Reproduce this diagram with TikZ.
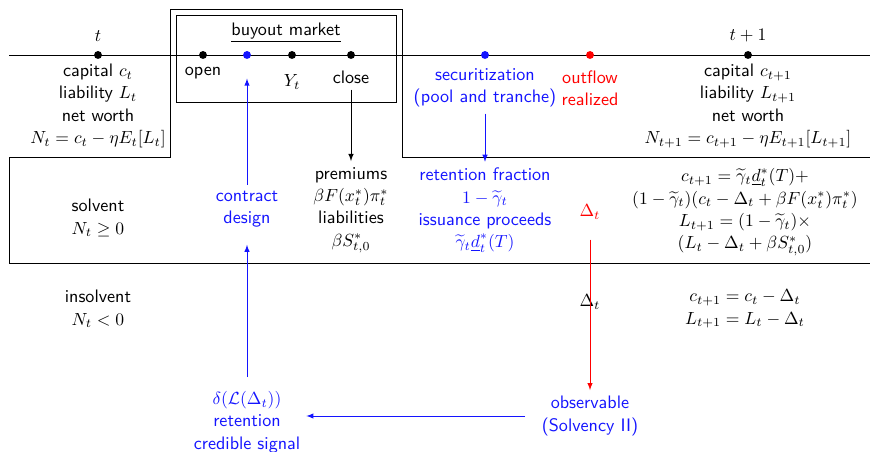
\documentclass[tikz,border=0pt]{standalone}
\usetikzlibrary{arrows,positioning}

\begin{document}
\begin{tikzpicture}[x=0.02cm, y=-0.02cm]
			\definecolor{signalColour}{RGB}{20, 20, 255}
			\definecolor{lossColour}{RGB}{255, 0, 0}
			\tikzstyle{date}=[circle, fill, inner sep=0pt, minimum size=4.5pt]
			\tikzstyle{txt}=[align=center, font={\sffamily\fontsize{10.3}{12.7}\selectfont}]

			\useasboundingbox (0,0) rectangle (870,452);

			% solvent region, insolvent border and the time line
			\draw (9,263) -- (9,157) -- (170,157) -- (170,9) -- (402,9) -- (402,157) -- (870,157);
			\draw (9,263) -- (870,263);
			\draw (176,15) rectangle (396,102);
			\draw (9,55) -- (870,55);

			\node [date] (t) at (98,55) {};
			\node [date] (o) at (203,55) {};
			\node [date, color=signalColour] (b) at (247,55) {};
			\node [date] (y) at (292,55) {};
			\node [date] (c) at (351,55) {};
			\node [date, color=signalColour] (s) at (485,55) {};
			\node [date, color=lossColour] (r) at (590,55) {};
			\node [date] (u) at (748,55) {};

			\node [txt] (T) at (98,36) {$t$};
			\node [txt] (U) at (748,36) {$t+1$};
			\node [txt] (A) at (98,106) {capital $c_t$\\ liability $L_t$\\ net worth\\ $N_t = c_t - \eta E_t[L_t]$};
			\node [txt] (M) at (286,33) {\underline{buyout market}};
			\node [txt] (O) at (203,73) {open};
			\node [txt] (Y) at (292,82) {$Y_t$};
			\node [txt] (C) at (351,77) {close};
			\node [txt, color=signalColour] (S) at (485,88) {securitization\\ (pool and tranche)};
			\node [txt, color=lossColour] (R) at (590,88) {outflow\\ realized};
			\node [txt] (V) at (748,106) {capital $c_{t+1}$\\ liability $L_{t+1}$\\ net worth\\ $N_{t+1} = c_{t+1} - \eta E_{t+1}[L_{t+1}]$};

			\node [txt] (sol) at (98,218) {solvent\\ $N_t \geq 0$};
			\node [txt, color=signalColour] (D) at (247,209) {contract\\ design};
			\node [txt] (P) at (351,210) {premiums\\ $\beta F(x_t^*)\pi_t^*$\\ liabilities\\ $\beta S^*_{t,0}$};
			\node [txt, color=signalColour] (F) at (485,210) {retention fraction\\ $1-\widetilde{\gamma}_t$\\ issuance proceeds\\ $\widetilde{\gamma}_t \underline{d}^*_t(T)$};
			\node [txt, color=lossColour] (L) at (590,212) {$\Delta_t$};
			\node [txt] (W) at (745,212) {$c_{t+1} = \widetilde{\gamma}_t\underline{d}^*_t(T)+$\\ $(1-\widetilde{\gamma}_t)(c_t - \Delta_t + \beta F(x_t^*)\pi_t^*)$\\ $L_{t+1} = (1-\widetilde{\gamma}_t)\times$\\ $(L_t - \Delta_t + \beta S^*_{t,0})$};

			\node [txt] (ins) at (98,309) {insolvent\\ $N_t < 0$};
			\node [txt] (X) at (590,302) {$\Delta_t$};
			\node [txt] (Z) at (745,309) {$c_{t+1} = c_t - \Delta_t$\\ $L_{t+1} = L_t - \Delta_t$};
			\node [txt, color=signalColour] (G) at (247,422) {$\delta(\mathcal{L}(\Delta_t))$\\ retention\\ credible signal};
			\node [txt, color=signalColour] (Q) at (590,416) {observable\\ (Solvency II)};

			\path[-latex, color=signalColour]
			(G) edge [shorten <=4.5pt, shorten >=6.5pt] (D)
			(D) edge [shorten >=11pt] (b)
			(S) edge (F)
			(Q.west) edge [shorten <=6pt] (Q.west -| G.east);
			\path[-latex]
			(C) edge (P);
			\path[-latex, color=lossColour]
			(L) edge [shorten <=8pt] (Q);
		\end{tikzpicture}
\end{document}
